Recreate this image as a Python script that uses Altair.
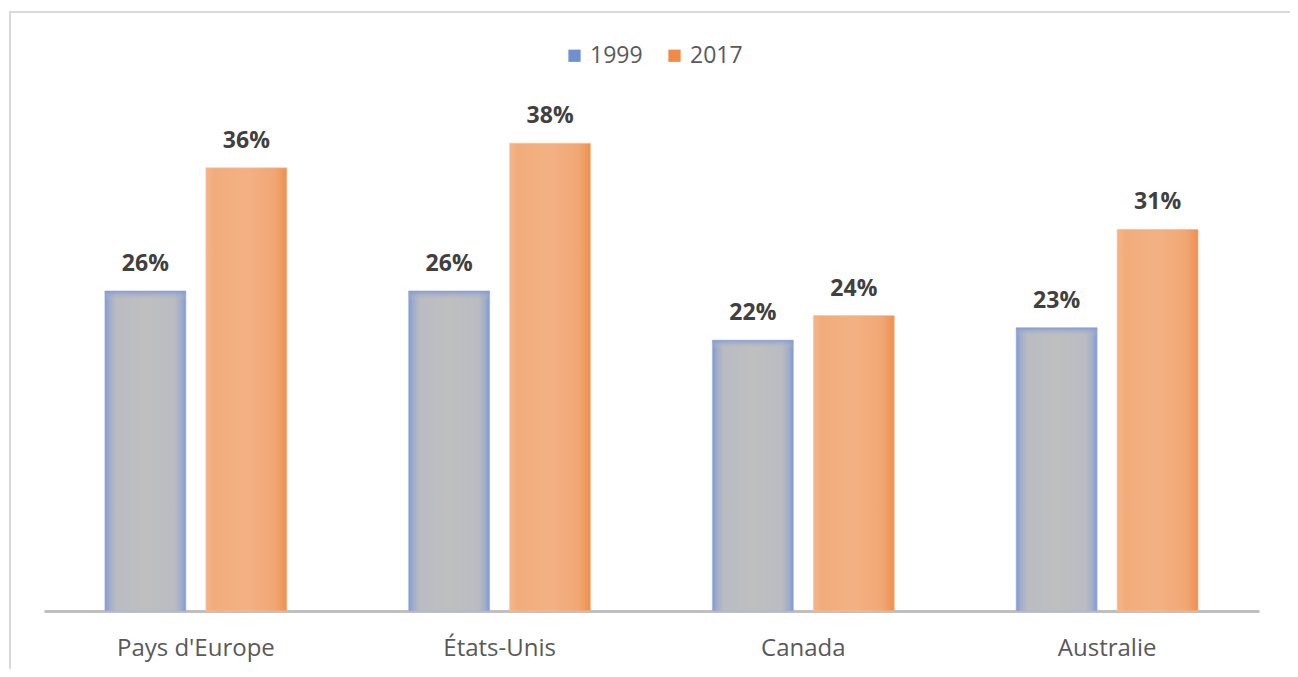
import altair as alt
import pandas as pd

countries = ["Pays d'Europe", "États-Unis", "Canada", "Australie"]
years = ["1999", "2017"]
values_1999 = [26, 26, 22, 23]
values_2017 = [36, 38, 24, 31]

rows = []
for c, v in zip(countries, values_1999):
    rows.append({"pays": c, "annee": "1999", "valeur": v, "label": f"{v}%"})
for c, v in zip(countries, values_2017):
    rows.append({"pays": c, "annee": "2017", "valeur": v, "label": f"{v}%"})
df = pd.DataFrame(rows)

FONT = "Open Sans"
W, H = 1215, 554

x_enc = alt.X(
    "pays:N", sort=countries, title=None,
    scale=alt.Scale(paddingInner=0, paddingOuter=0),
    axis=alt.Axis(domainColor="#bfbfbf", domainWidth=3, ticks=False, labelAngle=0,
                  labelFontSize=24, labelColor="#595959", labelFont=FONT,
                  labelPadding=25, grid=False),
)
xo_enc = alt.XOffset("annee:N", sort=years,
                     scale=alt.Scale(paddingInner=0.198, paddingOuter=0.603))
y_enc = alt.Y("valeur:Q", scale=alt.Scale(domain=[0, 45], nice=False, zero=True), axis=None)

base = alt.Chart(df)

grad_1999 = alt.Gradient(
    gradient="linear", x1=0, x2=1, y1=0, y2=0,
    stops=[
        alt.GradientStop(color="#7f9ad3", offset=0),
        alt.GradientStop(color="#a3adc9", offset=0.06),
        alt.GradientStop(color="#babcc2", offset=0.14),
        alt.GradientStop(color="#bfbfbf", offset=0.5),
        alt.GradientStop(color="#babcc2", offset=0.86),
        alt.GradientStop(color="#a3adc9", offset=0.94),
        alt.GradientStop(color="#7f9ad3", offset=1),
    ],
)
grad_top = alt.Gradient(
    gradient="linear", x1=0, x2=0, y1=0, y2=1,
    stops=[
        alt.GradientStop(color="rgba(128,153,212,0.9)", offset=0),
        alt.GradientStop(color="rgba(191,191,191,0)", offset=0.03),
        alt.GradientStop(color="rgba(191,191,191,0)", offset=1),
    ],
)
grad_2017 = alt.Gradient(
    gradient="linear", x1=0, x2=1, y1=0, y2=0,
    stops=[
        alt.GradientStop(color="#f4b58a", offset=0),
        alt.GradientStop(color="#f2ac7c", offset=0.1),
        alt.GradientStop(color="#f3b183", offset=0.5),
        alt.GradientStop(color="#f1a774", offset=0.85),
        alt.GradientStop(color="#ee904f", offset=1),
    ],
)

bars_1999 = base.transform_filter(alt.datum.annee == "1999").mark_bar(
    fill=grad_1999, stroke="#a5b6de", strokeWidth=0.6
).encode(x=x_enc, xOffset=xo_enc, y=y_enc)

bars_1999_top = base.transform_filter(alt.datum.annee == "1999").mark_bar(
    fill=grad_top
).encode(x=x_enc, xOffset=xo_enc, y=y_enc)

bars_2017 = base.transform_filter(alt.datum.annee == "2017").mark_bar(
    fill=grad_2017, stroke="#f6c29e", strokeWidth=0.6
).encode(x=x_enc, xOffset=xo_enc, y=y_enc)

labels = base.mark_text(
    dy=-20, baseline="alphabetic", fontSize=23, fontWeight="bold",
    color="#404040", font=FONT
).encode(x=x_enc, xOffset=xo_enc, y=y_enc, text="label:N")

legend_layer = base.mark_square(opacity=0, filled=True).encode(
    x=x_enc, xOffset=xo_enc, y=y_enc,
    color=alt.Color(
        "annee:N", sort=years,
        scale=alt.Scale(domain=years, range=["#6f8fcf", "#ef8a47"]),
        legend=alt.Legend(
            title=None, orient="none", legendX=519, legendY=-13,
            direction="horizontal", symbolType="square", symbolSize=150,
            symbolOpacity=1, symbolStrokeWidth=0, labelFontSize=23,
            labelColor="#595959", labelFont=FONT, labelOffset=4,
            columnPadding=20, padding=0,
        ),
    ),
)

border = alt.Chart(pd.DataFrame({"k": [0]})).mark_rect(
    fillOpacity=0, stroke="#d9d9d9", strokeWidth=2
).encode(
    x=alt.value(-34), x2=alt.value(1250), y=alt.value(-45), y2=alt.value(700)
)

chart = alt.layer(
    bars_1999, bars_1999_top, bars_2017, labels, legend_layer, border
).properties(
    width=W, height=H,
    autosize=alt.AutoSizeParams(type="none"),
    padding={"left": 36, "top": 49, "right": 31, "bottom": 58},
).configure_view(stroke=None)

chart.save("out.html", embed_options={"renderer": "svg", "actions": False})
